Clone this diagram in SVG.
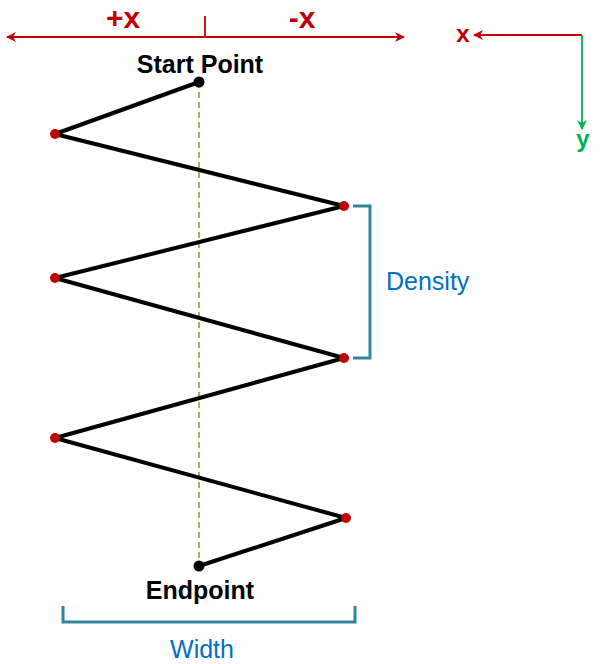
<svg xmlns="http://www.w3.org/2000/svg" width="602" height="664" viewBox="0 0 602 664">
<defs>
<style>
.lbl{font-family:"Liberation Sans",Arial,sans-serif;font-weight:bold;fill:#000;font-size:25px;text-anchor:middle}
.red{font-family:"Liberation Sans",Arial,sans-serif;font-weight:bold;fill:#c00000;text-anchor:middle}
.blue{font-family:"Liberation Sans",Arial,sans-serif;fill:#0070c0;font-size:25px}
.zig{fill:none;stroke:#000;stroke-width:4;stroke-linejoin:round}
.rdot{fill:#c00000}
.bdot{fill:#000}
.br{fill:none;stroke:#31849b;stroke-width:3}
</style>
<marker id="ar" viewBox="0 0 10 10" refX="9" refY="5" markerWidth="11" markerHeight="10" orient="auto-start-reverse" markerUnits="userSpaceOnUse"><path d="M0,0 L10,5 L0,10 L3,5 z" fill="#c00000"/></marker>
<marker id="ag" viewBox="0 0 10 10" refX="9" refY="5" markerWidth="11" markerHeight="10" orient="auto" markerUnits="userSpaceOnUse"><path d="M0,0 L10,5 L0,10 L3,5 z" fill="#00b050"/></marker>
</defs>
<g id="connectors">
<line x1="199" y1="82" x2="199" y2="566" stroke="#9bbb59" stroke-width="2" stroke-dasharray="6,4"/>
<polyline class="zig" points="199,82 55,134 344,206 55,278 344,358 55,438 346,518 199,566"/>
</g>
<g id="x-axis-top">
<line x1="7" y1="37" x2="404" y2="37" stroke="#c00000" stroke-width="1.8" marker-start="url(#ar)" marker-end="url(#ar)"/>
<line x1="205" y1="16" x2="205" y2="37" stroke="#c00000" stroke-width="1.8"/>
<text class="red" x="123" y="28" font-size="30">+x</text>
<text class="red" x="302" y="28" font-size="30">-x</text>
</g>
<g id="axes">
<line x1="582" y1="35" x2="474" y2="35" stroke="#c00000" stroke-width="1.8" marker-end="url(#ar)"/>
<text class="red" x="463" y="42" font-size="24">x</text>
<line x1="582" y1="35" x2="582" y2="129" stroke="#00b050" stroke-width="1.8" marker-end="url(#ag)"/>
<text x="583" y="147" font-family="Liberation Sans,Arial,sans-serif" font-weight="bold" font-size="24" fill="#00b050" text-anchor="middle">y</text>
</g>
<g id="start-point">
<circle class="bdot" cx="199" cy="82" r="5.5"/>
<text class="lbl" x="200" y="73">Start Point</text>
</g>
<g id="endpoint">
<circle class="bdot" cx="199" cy="566" r="5.5"/>
<text class="lbl" x="200" y="599">Endpoint</text>
</g>
<g id="points">
<circle class="rdot" cx="55" cy="134" r="5"/>
<circle class="rdot" cx="344" cy="206" r="5"/>
<circle class="rdot" cx="55" cy="278" r="5"/>
<circle class="rdot" cx="344" cy="358" r="5"/>
<circle class="rdot" cx="55" cy="438" r="5"/>
<circle class="rdot" cx="346" cy="518" r="5"/>
</g>
<g id="density">
<polyline class="br" points="353,206 370,206 370,358 353,358"/>
<text class="blue" x="386" y="290">Density</text>
</g>
<g id="width">
<polyline class="br" points="63,606 63,622 355,622 355,606"/>
<text class="blue" x="202" y="658" text-anchor="middle">Width</text>
</g>
</svg>
